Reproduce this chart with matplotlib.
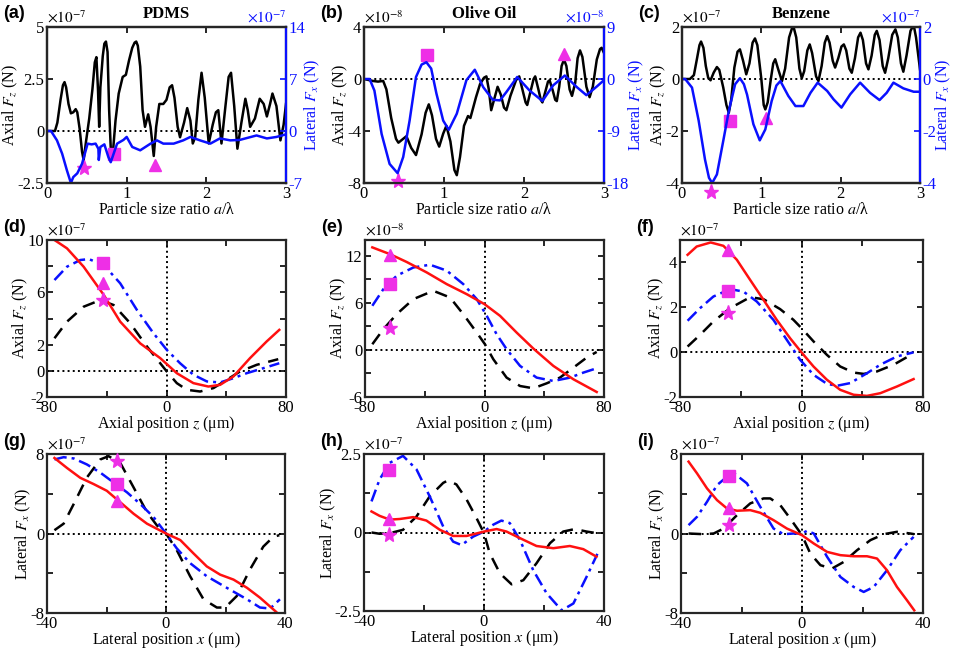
import matplotlib
matplotlib.use("Agg")
import matplotlib.pyplot as plt

plt.rcParams['font.family'] = ['Liberation Serif', 'DejaVu Serif']
plt.rcParams['mathtext.fontset'] = 'stix'
plt.rcParams['axes.unicode_minus'] = False
plt.rcParams['font.size'] = 11

MAG = '#ee2fe6'
BLUE = '#0a10ff'

# ---------------- top row: force vs particle size ratio (x, y) ----------------
a_fz = [(0, 0), (0.1, 0), (0.13, 0.4), (0.17, 1.5), (0.20, 2.2), (0.22, 2.35), (0.24, 2.1), (0.27, 1.3),
        (0.30, 0.85), (0.33, 0.9), (0.36, 1.05), (0.38, 0.9), (0.41, 0.1), (0.44, -1.0), (0.46, -1.4),
        (0.49, -0.5), (0.53, 0.6), (0.57, 2.0), (0.60, 3.3), (0.62, 3.55), (0.64, 2.0), (0.655, 0.2),
        (0.67, 2.1), (0.70, 3.6), (0.72, 4.2), (0.74, 4.3), (0.76, 3.8), (0.78, 1.0), (0.80, -0.8),
        (0.83, -0.9), (0.86, 0.5), (0.90, 1.8), (0.95, 2.6), (0.99, 2.7), (1.03, 3.4), (1.07, 4.0),
        (1.10, 4.25), (1.12, 4.3), (1.14, 4.1), (1.17, 3.1), (1.20, 1.0), (1.23, 0.2), (1.27, 0.8),
        (1.30, 0.2), (1.34, -1.2), (1.37, 0.2), (1.41, 1.3), (1.46, 1.3), (1.50, 1.5), (1.54, 2.1),
        (1.57, 2.2), (1.60, 1.6), (1.64, 0.2), (1.67, -0.3), (1.72, 0.4), (1.76, 1.1), (1.80, 0.5),
        (1.83, -0.6), (1.86, -0.3), (1.90, 1.5), (1.94, 2.8), (1.98, 1.6), (2.03, -0.6), (2.08, 0.3),
        (2.12, 0.9), (2.15, 1.0), (2.19, -0.6), (2.24, 1.2), (2.28, 2.6), (2.31, 2.8), (2.35, 1.2),
        (2.39, -0.85), (2.44, 0.4), (2.49, 1.55), (2.52, 1.0), (2.55, 0.2), (2.61, 0.6), (2.67, 1.55),
        (2.72, 1.3), (2.76, 0.7), (2.80, 1.3), (2.83, 1.8), (2.88, 1.2), (2.93, -0.45), (2.97, 0.3),
        (3.0, 1.3)]
a_fx = [(0, 0), (0.05, 0), (0.125, -1.26), (0.19, -3.05), (0.25, -5.3), (0.30, -7.0), (0.33, -6.2),
        (0.38, -5.7), (0.44, -4.4), (0.51, -1.7), (0.56, -1.8), (0.61, -1.7), (0.645, -2.4), (0.65, -3.9),
        (0.67, -2.15), (0.72, -1.8), (0.77, -3.5), (0.80, -4.2), (0.88, -1.7), (0.96, -1.2), (1.0, -0.8),
        (1.07, -2.15), (1.17, -2.6), (1.30, -1.7), (1.38, -1.26), (1.46, -1.7), (1.59, -1.7), (1.71, -1.26),
        (1.80, -0.8), (1.92, -1.26), (2.05, -1.7), (2.17, -1.0), (2.30, -1.26), (2.42, -1.2), (2.63, -0.6),
        (2.76, -1.0), (2.88, -0.8), (3.0, -0.45)]
a_marks = [(0.47, -1.78), (0.84, -1.12), (1.35, -1.65)]  # star, square, triangle

b_fz = [(0, 0), (0.11, -0.15), (0.175, -0.2), (0.24, -0.15), (0.28, -0.8), (0.34, -3.0), (0.40, -4.6),
        (0.43, -4.9), (0.48, -4.65), (0.53, -4.4), (0.59, -5.3), (0.65, -5.85), (0.72, -4.25), (0.77, -2.6),
        (0.81, -1.95), (0.85, -2.8), (0.90, -4.6), (0.94, -5.2), (0.99, -4.2), (1.03, -3.6), (1.08, -4.8),
        (1.13, -7.0), (1.16, -7.4), (1.20, -6.0), (1.25, -3.6), (1.30, -2.85), (1.33, -3.0), (1.40, -1.4),
        (1.45, -0.4), (1.50, 0.1), (1.53, 0.2), (1.56, -0.8), (1.59, -2.4), (1.63, -1.5), (1.67, -0.6),
        (1.71, -1.2), (1.75, -2.2), (1.78, -2.4), (1.83, -1.3), (1.90, -0.1), (1.94, 0.2), (1.98, -0.8),
        (2.02, -1.8), (2.04, -2.0), (2.08, -1.0), (2.12, 0.0), (2.14, 0.2), (2.18, -0.8), (2.21, -1.6),
        (2.23, -1.8), (2.27, -0.9), (2.30, -0.2), (2.32, -0.1), (2.36, -0.9), (2.39, -1.6), (2.41, -1.7),
        (2.44, -0.6), (2.47, 1.0), (2.50, 1.5), (2.53, 1.0), (2.57, -0.8), (2.60, -1.3), (2.64, -0.3),
        (2.67, 1.6), (2.70, 2.2), (2.73, 1.7), (2.78, -0.6), (2.82, -1.4), (2.86, -0.6), (2.91, 1.5),
        (2.95, 2.3), (2.97, 2.4), (3.0, 2.0)]
b_fx = [(0, 0), (0.07, 0), (0.13, -2.0), (0.22, -9.5), (0.32, -14.7), (0.42, -16.3), (0.49, -13.5),
        (0.57, -7.2), (0.65, 0.35), (0.72, 2.5), (0.78, 2.9), (0.84, 1.8), (0.905, -2.5), (0.99, -7.2),
        (1.06, -8.8), (1.16, -6.0), (1.28, -0.2), (1.385, 1.6), (1.49, -1.4), (1.61, -3.6), (1.70, -3.7),
        (1.78, -2.25), (1.915, 0.35), (2.07, -2.0), (2.23, -3.8), (2.365, -1.1), (2.51, 0.6), (2.66, -1.4),
        (2.78, -2.8), (2.91, -1.3), (3.0, -0.2)]
b_marks = [(0.42, -7.85), (0.79, 1.82), (2.50, 1.95)]

c_fz = [(0, 0), (0.1, 0), (0.15, 0.15), (0.19, 0.8), (0.22, 1.3), (0.24, 1.44), (0.27, 1.2), (0.30, 0.5),
        (0.33, 0.05), (0.36, -0.05), (0.40, 0.25), (0.44, 0.46), (0.47, 0.35), (0.52, -0.33), (0.56, -1.0),
        (0.59, -1.3), (0.62, -0.8), (0.66, 0.44), (0.70, 1.05), (0.73, 1.14), (0.77, 0.7), (0.81, 0.18),
        (0.85, 0.6), (0.89, 1.4), (0.92, 1.56), (0.95, 1.3), (1.0, 0.0), (1.03, -1.0), (1.05, -1.17),
        (1.08, -0.9), (1.12, 0.0), (1.15, 0.6), (1.175, 0.76), (1.21, 0.4), (1.26, -0.08), (1.30, 0.4),
        (1.35, 1.6), (1.40, 2.08), (1.44, 1.6), (1.48, 0.4), (1.51, 0.03), (1.54, 0.3), (1.58, 1.1),
        (1.61, 1.33), (1.64, 1.0), (1.69, 0.1), (1.72, -0.08), (1.76, 0.5), (1.80, 1.4), (1.83, 1.65),
        (1.86, 1.4), (1.90, 0.7), (1.93, 0.44), (1.97, 0.8), (2.01, 1.25), (2.04, 1.33), (2.07, 1.1),
        (2.11, 0.4), (2.14, 0.24), (2.18, 0.8), (2.22, 1.6), (2.25, 1.78), (2.28, 1.5), (2.32, 0.6),
        (2.35, 0.37), (2.39, 0.9), (2.43, 1.7), (2.455, 1.85), (2.49, 1.5), (2.53, 0.5), (2.56, 0.24),
        (2.60, 0.8), (2.65, 1.7), (2.69, 1.91), (2.72, 1.6), (2.76, 0.6), (2.79, 0.28), (2.83, 0.9),
        (2.88, 1.85), (2.92, 2.08), (2.95, 1.6), (3.0, 0.37)]
c_fx = [(0, 0), (0.04, 0), (0.126, -0.33), (0.21, -1.6), (0.29, -3.1), (0.34, -3.8), (0.38, -4.0),
        (0.44, -3.67), (0.52, -2.38), (0.59, -1.23), (0.67, -0.2), (0.73, 0.03), (0.78, -0.2), (0.82, -0.6),
        (0.90, -1.74), (0.98, -2.36), (1.05, -1.94), (1.13, -0.85), (1.19, -0.25), (1.24, -0.08),
        (1.34, -0.65), (1.43, -1.04), (1.53, -1.04), (1.62, -0.53), (1.71, -0.14), (1.83, -0.46),
        (1.91, -0.78), (2.01, -1.10), (2.12, -0.59), (2.245, -0.14), (2.37, -0.53), (2.49, -0.81),
        (2.58, -0.53), (2.665, -0.14), (2.79, -0.36), (2.92, -0.49), (3.0, -0.49)]
c_marks = [(0.37, -4.33), (0.60, -1.62), (1.06, -1.49)]

# ---------------- middle row: axial force vs axial position ----------------
d_red_x = [-75, -66.6, -55.5, -42, -31, -17.6, -4.2, 6.9, 18, 28, 35.9, 44.8, 55.9, 67, 75.5]
d_red_y = [10.0, 9.36, 7.96, 5.8, 3.76, 2.1, 0.97, -0.18, -0.94, -1.2, -1.07, -0.43, 0.97, 2.24, 3.13]
d_blue_x = [-75, -66.6, -57.7, -52, -42, -31, -19.8, -8.7, 0.2, 9.1, 18, 27, 35.9, 44.8, 53.7, 64.8, 75.5]
d_blue_y = [6.94, 7.96, 8.47, 8.54, 8.09, 6.69, 4.65, 2.87, 1.6, 0.58, -0.3, -0.81, -0.89, -0.56, -0.18, 0.2, 0.58]
d_blk_x = [-75, -66.6, -55.5, -44.3, -35.4, -24.3, -13.1, -4.2, 0.2, 6.9, 13.6, 22.5, 31.4, 40.3, 49.2, 60.4, 74.8]
d_blk_y = [2.49, 3.76, 4.9, 5.41, 5.03, 3.64, 1.86, 0.58, -0.05, -0.94, -1.45, -1.58, -1.32, -0.69, -0.05, 0.46, 0.89]
d_marks = [(-42.5, 5.42), (-42.5, 8.26), (-42.5, 6.74)]

e_red_x = [-75.1, -63.3, -52.1, -38.7, -25.3, -11.9, 0, 10.4, 21.5, 32.7, 46.1, 59.5, 75.1]
e_red_y = [13.06, 12.2, 11.2, 9.87, 8.38, 7.1, 5.83, 4.34, 2.21, 0.17, -2.04, -3.74, -5.36]
e_blue_x = [-75.1, -67.7, -58.8, -47.6, -36.5, -25.3, -14.2, -5.2, 1.5, 8.1, 14.8, 23.8, 34.9, 46.1, 57.3, 66.2, 75.1]
e_blue_y = [5.62, 7.74, 9.45, 10.5, 10.85, 10.1, 8.38, 6.47, 4.34, 2.0, 0.09, -2.04, -3.53, -3.96, -3.53, -2.89, -2.34]
e_blk_x = [-75.1, -67.7, -58.8, -47.6, -34.3, -23.1, -14.2, -5.2, 0.3, 5.9, 14.8, 23.8, 32.7, 41.6, 50.5, 59.5, 68.4, 75.1]
e_blk_y = [0.72, 2.64, 4.55, 6.47, 7.53, 6.68, 4.55, 2.21, 0.72, -1.19, -3.53, -4.6, -4.89, -4.26, -3.53, -2.26, -0.98, -0.26]
e_marks = [(-63.3, 2.85), (-63.3, 8.38), (-63.3, 12.1)]

f_red_x = [-75, -69, -59.8, -51.4, -42.6, -33.8, -25, -16.3, -7.5, 0, 7.9, 16.7, 25.5, 34.3, 43.1, 51.9, 62.9, 73.8]
f_red_y = [4.34, 4.71, 4.89, 4.74, 4.12, 3.22, 2.33, 1.44, 0.62, -0.01, -0.64, -1.23, -1.68, -1.9, -1.95, -1.83, -1.53, -1.2]
f_blue_x = [-75, -66.8, -58, -47, -38.2, -29.5, -18.5, -9.7, -0.9, 7.9, 16.7, 23.3, 32.1, 43.1, 51.9, 62.9, 73.8]
f_blue_y = [1.4, 1.96, 2.48, 2.81, 2.7, 2.26, 1.44, 0.55, -0.34, -1.01, -1.41, -1.5, -1.38, -0.94, -0.56, -0.19, -0.01]
f_blk_x = [-75, -66.8, -58, -47, -33.8, -25, -14.1, -5.3, 0, 7.9, 16.7, 25.5, 34.3, 40.9, 49.7, 60.7, 69.5, 73.8]
f_blk_y = [0.25, 0.77, 1.37, 1.96, 2.45, 2.36, 1.92, 1.44, 1.07, 0.48, -0.12, -0.64, -0.91, -0.97, -0.86, -0.56, -0.22, -0.12]
f_marks = [(-48.1, 1.74), (-48.1, 2.73), (-48.1, 4.56)]

# ---------------- bottom row: lateral force vs lateral position ----------------
g_red_x = [-37.5, -33.3, -28.8, -24.3, -19.9, -15.4, -10.9, -6.4, 0, 4.8, 9.2, 13.7, 18.2, 22.7, 27.2, 31.6, 37]
g_red_y = [7.6, 6.6, 5.6, 4.97, 4.3, 3.15, 1.99, 0.99, 0, -0.66, -1.99, -3.31, -4.14, -4.64, -5.46, -6.46, -7.88]
g_blue_x = [-37.5, -34.4, -31, -26.6, -22.1, -17.6, -13.1, -8.7, -4.2, 0, 3.6, 8.1, 13.7, 20.4, 27.2, 31.6, 35, 38.3]
g_blue_y = [7.45, 7.68, 7.55, 6.95, 6.13, 5.13, 4.14, 2.98, 1.66, 0, -1.49, -2.98, -4.3, -5.46, -6.62, -7.45, -7.55, -6.62]
g_blk_x = [-37.5, -34.4, -31, -26.6, -22.1, -19.3, -15.4, -10.9, -6.4, -3.1, 0, 3.6, 8.1, 12.6, 17.1, 19.9,
           23.8, 28.2, 32.7, 36.1, 38.1]
g_blk_y = [0.33, 0.99, 2.98, 5.63, 7.45, 7.78, 7.12, 4.64, 2.15, 0.83, 0, -1.66, -4.3, -6.62, -7.45, -7.45,
           -6.29, -3.64, -1.32, -0.33, -0.17]
g_marks = [(-16.5, 7.28), (-16.5, 5.03), (-16.5, 3.31)]

h_red_x = [-37.5, -34.8, -31.4, -28.1, -23.6, -19.2, -14.7, -10.3, -5.8, 0, 4.2, 7.5, 12, 17.5, 23.1, 28.6, 33.1, 37.5]
h_red_y = [0.67, 0.53, 0.41, 0.43, 0.49, 0.38, 0.085, -0.11, -0.11, 0.03, 0.11, 0.03, -0.18, -0.43, -0.5, -0.43, -0.53, -0.77]
h_blue_x = [-37.5, -34.8, -31.4, -27, -22.5, -18.1, -13.6, -10.3, -7.5, -3.6, 0, 3.1, 5.8, 8.6, 12, 16.4,
            20.9, 25.9, 29.8, 34.2, 37.8]
h_blue_y = [0.99, 1.69, 2.22, 2.44, 2.01, 1.15, 0.19, -0.29, -0.4, -0.13, 0.03, 0.25, 0.38, 0.3, -0.24, -1.2,
            -1.94, -2.48, -2.26, -1.41, -0.68]
h_blk_x = [-37.5, -34.8, -31.4, -27, -22.5, -18.1, -13.6, -12, -9.2, -5.8, -2.5, 0, 1.9, 5.3, 9.2, 13.1,
           17.5, 22, 26.4, 30.3, 34.2, 37.5]
h_blk_y = [0, -0.04, -0.02, 0.085, 0.51, 1.15, 1.58, 1.66, 1.53, 1.05, 0.46, -0.02, -0.66, -1.3, -1.65, -1.52,
           -0.98, -0.34, 0.03, 0.11, 0.03, -0.02]
h_marks = [(-31.6, -0.07), (-31.6, 1.99), (-31.6, 0.43)]

i_red_x = [-37.5, -34.7, -31.4, -28.1, -24.8, -21.5, -17.1, -13.8, -9.4, -5, 0, 3.9, 8.3, 12.7, 17.1, 21.5,
           24.8, 28.1, 31.4, 34.7, 37.1]
i_red_y = [7.23, 6.05, 4.54, 3.36, 2.52, 2.29, 2.35, 2.08, 1.34, 0.5, -0.17, -1.01, -1.85, -2.18, -2.29, -2.29,
           -2.52, -3.7, -5.38, -6.72, -7.73]
i_blue_x = [-37.5, -34.7, -31.4, -28.1, -24.8, -22, -18.2, -13.8, -9.4, -6.1, -2.8, 0, 1.65, 3.9, 8.3, 12.7,
            17.1, 20.4, 23.7, 28.1, 32.5, 36.9]
i_blue_y = [0.84, 1.68, 3.19, 4.87, 5.71, 5.95, 5.04, 2.69, 0.5, -0.07, 0, 0, 0.27, 0, -2.35, -4.37,
            -5.38, -5.88, -5.38, -3.7, -1.68, -0.34]
i_blk_x = [-37.5, -32.5, -29.2, -25.9, -21.5, -17.1, -12.7, -10.5, -7.2, -3.9, 0, 2.75, 6.1, 9.9, 13.8, 18.2,
           22.6, 27, 31.4, 35.8, 37.1]
i_blk_y = [0, -0.07, 0, 0.5, 1.85, 3.03, 3.53, 3.53, 2.86, 1.51, -0.17, -2.02, -3.19, -3.53, -2.86, -1.68,
           -0.67, -0.07, 0.17, 0, -0.07]
i_marks = [(-24.2, 0.84), (-24.2, 5.82), (-24.2, 2.52)]

fig = plt.figure(figsize=(9.59, 6.5), dpi=100)
W, H = 959.0, 650.0
LAB = 11.5


def make_ax(left, top, right, bottom):
    return fig.add_axes([left / W, 1 - bottom / H, (right - left) / W, (bottom - top) / H])


def frame(ax):
    for s in ax.spines.values():
        s.set_linewidth(1.6)
        s.set_color('#262626')
    ax.tick_params(direction='in', length=4, width=1.2, labelsize=12, pad=2)


def markers(ax, marks):
    for (mx, my), m, ms in zip(marks, ['*', 's', '^'], [11, 9, 9]):
        ax.plot(mx, my, marker=m, color=MAG, ms=ms, clip_on=False, zorder=5)


def tag_text(box, tag):
    fig.text((box[0] - 44) / W, 1 - (box[1] - 13) / H, tag, ha='left', va='center', fontsize=13,
             fontweight='bold', family='Liberation Sans')


def top_panel(box, fz, fx, marks, lyl, lyt, ryl, ryt, exp, title, tag):
    ax = make_ax(*box)
    frame(ax)
    ax2 = ax.twinx()
    ax.plot(*zip(*fz), color='k', lw=1.8)
    ax.axhline(0, color='k', ls=':', lw=1.4)
    ax2.plot(*zip(*fx), color=BLUE, lw=1.8)
    markers(ax, marks)
    ax.set_xlim(0, 3)
    ax.set_ylim(*lyl)
    ax2.set_ylim(*ryl)
    ax.set_xticks([0, 1, 2, 3])
    ax.set_yticks(lyt)
    ax.set_yticklabels([('%g' % t) for t in lyt])
    ax2.set_yticks(ryt)
    ax2.set_yticklabels([('%g' % t) for t in ryt])
    ax.tick_params(top=True, right=False)
    for s in ax2.spines.values():
        s.set_linewidth(1.6)
        s.set_color('#262626')
    ax2.spines['right'].set_color(BLUE)
    ax2.tick_params(direction='in', length=4, width=1.2, labelsize=12, pad=2, colors=BLUE)
    ax.set_xlabel(r'Particle size ratio $a$/λ', fontsize=LAB, labelpad=0)
    ax.set_ylabel(r'Axial $F_z$ (N)', fontsize=LAB, labelpad=-2)
    ax2.set_ylabel(r'Lateral $F_x$ (N)', fontsize=LAB, color=BLUE, labelpad=-2)
    ax.text(0.0, 1.01, r'$\times10^{%d}$' % exp, transform=ax.transAxes, ha='left', va='bottom', fontsize=11)
    ax.text(1.0, 1.01, r'$\times10^{%d}$' % exp, transform=ax.transAxes, ha='right', va='bottom',
            fontsize=11, color=BLUE)
    ax.text(0.5, 1.03, title, transform=ax.transAxes, ha='center', va='bottom', fontsize=12, fontweight='bold')
    tag_text(box, tag)


def pos_panel(box, red, blue, blk, marks, xl, xt, xtl, yl, yt, ytl, exp, xlabel, ylabel, tag):
    ax = make_ax(*box)
    frame(ax)
    ax.axhline(0, color='k', ls=':', lw=1.4)
    ax.axvline(0, color='k', ls=':', lw=1.4)
    ax.plot(blk[0], blk[1], color='k', ls=(0, (5, 3.5)), lw=1.8)
    ax.plot(blue[0], blue[1], color=BLUE, ls=(0, (5, 2, 1.2, 2)), lw=1.8)
    ax.plot(red[0], red[1], color='#ff1010', lw=1.8)
    markers(ax, marks)
    ax.set_xlim(*xl)
    ax.set_ylim(*yl)
    ax.set_xticks(xt)
    ax.set_xticklabels(xtl)
    ax.set_yticks(yt)
    ax.set_yticklabels(ytl)
    ax.tick_params(top=True, right=True)
    ax.set_xlabel(xlabel, fontsize=LAB, labelpad=-1)
    ax.set_ylabel(ylabel, fontsize=LAB, labelpad=-2)
    ax.text(0.0, 1.01, r'$\times10^{%d}$' % exp, transform=ax.transAxes, ha='left', va='bottom', fontsize=11)
    tag_text(box, tag)


top_panel((47, 27, 286, 183), a_fz, a_fx, a_marks,
          (-2.5, 5), [-2.5, 0, 2.5, 5], (-7, 14), [-7, 0, 7, 14], -7, 'PDMS', '(a)')
top_panel((364, 27, 604, 183), b_fz, b_fx, b_marks,
          (-8, 4), [-8, -4, 0, 4], (-18, 9), [-18, -9, 0, 9], -8, 'Olive Oil', '(b)')
top_panel((682, 27, 920, 183), c_fz, c_fx, c_marks,
          (-4, 2), [-4, -2, 0, 2], (-4, 2), [-4, -2, 0, 2], -7, 'Benzene', '(c)')

zx_t = [-80, -40, 0, 40, 80]
zx_tl = ['-80', '', '0', '', '80']
zlab = 'Axial position $z$ (\u03bcm)'
fzlab = r'Axial $F_z$ (N)'
pos_panel((47, 240, 286, 397), (d_red_x, d_red_y), (d_blue_x, d_blue_y), (d_blk_x, d_blk_y), d_marks,
          (-80, 80), zx_t, zx_tl, (-2, 10), [-2, 0, 2, 4, 6, 8, 10], ['-2', '0', '2', '', '6', '', '10'],
          -7, zlab, fzlab, '(d)')
pos_panel((365, 240, 604, 397), (e_red_x, e_red_y), (e_blue_x, e_blue_y), (e_blk_x, e_blk_y), e_marks,
          (-80, 80), zx_t, zx_tl, (-6, 14), [-6, -3, 0, 3, 6, 9, 12], ['-6', '', '0', '', '6', '', '12'],
          -8, zlab, fzlab, '(e)')
pos_panel((680, 240, 923, 397), (f_red_x, f_red_y), (f_blue_x, f_blue_y), (f_blk_x, f_blk_y), f_marks,
          (-80, 80), zx_t, zx_tl, (-2, 5), [-2, 0, 2, 4], ['-2', '0', '2', '4'],
          -7, zlab, fzlab, '(f)')

xx_t = [-40, -20, 0, 20, 40]
xx_tl = ['-40', '', '0', '', '40']
xlab = 'Lateral position $x$ (\u03bcm)'
fxlab = r'Lateral $F_x$ (N)'
pos_panel((47, 454, 285, 613), (g_red_x, g_red_y), (g_blue_x, g_blue_y), (g_blk_x, g_blk_y), g_marks,
          (-40, 40), xx_t, xx_tl, (-8, 8), [-8, -4, 0, 4, 8], ['-8', '', '0', '', '8'],
          -7, xlab, fxlab, '(g)')
pos_panel((364, 454, 604, 611), (h_red_x, h_red_y), (h_blue_x, h_blue_y), (h_blk_x, h_blk_y), h_marks,
          (-40, 40), xx_t, xx_tl, (-2.5, 2.5), [-2.5, -1.25, 0, 1.25, 2.5], ['-2.5', '', '0', '', '2.5'],
          -7, xlab, fxlab, '(h)')
pos_panel((681, 454, 923, 613), (i_red_x, i_red_y), (i_blue_x, i_blue_y), (i_blk_x, i_blk_y), i_marks,
          (-40, 40), xx_t, xx_tl, (-8, 8), [-8, -4, 0, 4, 8], ['-8', '', '0', '', '8'],
          -7, xlab, fxlab, '(i)')

fig.savefig('out.png', dpi=100)
